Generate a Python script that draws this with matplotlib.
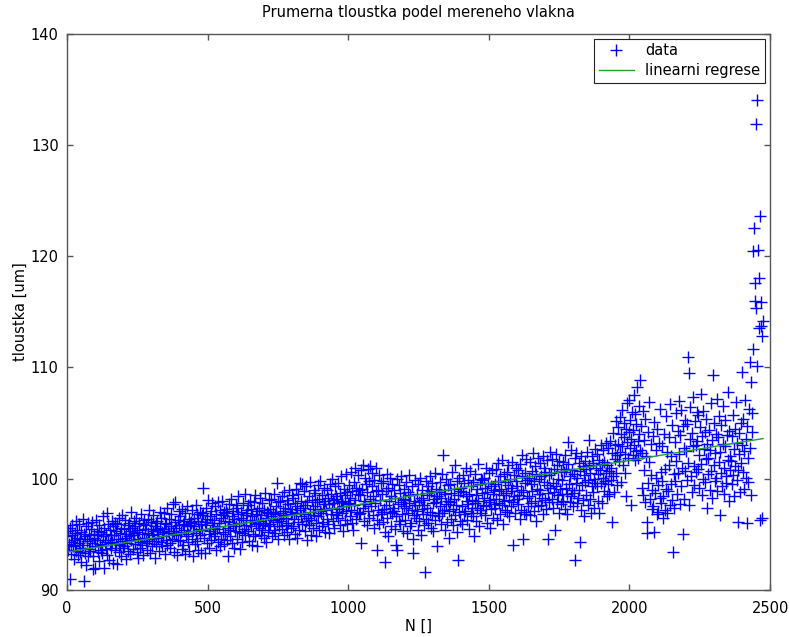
import numpy as np
import matplotlib
matplotlib.use('Agg')
import matplotlib.pyplot as plt

thickness = [
    94.8, 95.3, 93.6, 94.1, 91.0, 95.6, 94.3, 93.2, 94.9, 95.8, 93.9, 94.5, 92.8, 95.1, 94.0, 96.2, 93.5, 94.7, 95.4, 93.1,
    94.2, 95.9, 93.4, 94.6, 92.5, 95.2, 93.8, 96.4, 94.0, 90.8, 95.0, 93.3, 94.8, 92.2, 95.7, 94.4, 93.0, 96.0, 94.9, 93.7,
    94.6, 93.5, 95.5, 96.1, 94.2, 93.0, 91.9, 95.0, 94.7, 93.9, 92.0, 96.3, 94.5, 95.3, 93.4, 94.9, 92.6, 95.8, 94.1, 93.6,
    95.2, 94.0, 93.3, 96.6, 94.8, 92.0, 95.6, 94.3, 93.7, 95.0, 96.9, 93.1, 94.5, 95.9, 92.7, 94.2, 95.4, 93.8, 94.9, 96.2,
    94.3, 95.7, 92.4, 94.9, 96.0, 93.6, 95.3, 94.1, 92.3, 95.9, 94.6, 93.4, 96.5, 95.1, 94.0, 93.0, 95.6, 96.7, 94.4, 93.8,
    95.5, 93.9, 94.7, 96.3, 95.0, 92.8, 94.2, 95.8, 93.5, 96.0, 94.8, 95.3, 93.2, 94.5, 97.0, 95.6, 93.7, 94.9, 96.2, 95.1,
    94.1, 95.7, 96.5, 93.4, 95.2, 94.6, 92.9, 96.0, 95.4, 94.3, 93.8, 96.8, 95.0, 94.0, 95.9, 93.1, 94.7, 96.3, 95.5, 94.4,
    95.8, 94.2, 93.6, 96.4, 95.1, 97.2, 94.6, 93.3, 95.5, 96.1, 94.9, 93.9, 95.3, 96.7, 94.4, 92.9, 95.7, 96.0, 94.1, 95.4,
    96.2, 94.7, 95.0, 93.5, 97.0, 95.6, 94.3, 96.5, 95.2, 93.9, 94.8, 96.9, 95.5, 93.2, 96.0, 94.5, 95.9, 97.4, 94.0, 95.3,
    95.1, 96.4, 94.2, 93.8, 95.7, 96.8, 94.6, 95.3, 97.7, 95.0, 93.4, 96.1, 97.9, 94.9, 95.6, 93.1, 96.3, 94.4, 95.8, 97.1,
    94.5, 96.6, 95.2, 93.7, 97.3, 95.9, 94.0, 96.2, 95.4, 93.2, 96.9, 94.8, 95.7, 97.5, 94.3, 95.0, 96.4, 93.5, 95.8, 96.1,
    96.0, 94.6, 97.2, 95.3, 93.0, 96.5, 95.7, 94.1, 97.6, 95.1, 96.8, 94.4, 93.6, 96.2, 95.5, 97.0, 94.9, 95.9, 93.3, 96.7,
    95.4, 96.9, 99.2, 94.7, 96.1, 93.3, 95.8, 97.4, 94.2, 96.4, 98.1, 95.0, 93.8, 96.6, 95.3, 97.1, 94.5, 96.0, 97.8, 95.6,
    94.8, 96.3, 97.5, 95.1, 93.6, 96.8, 95.5, 97.9, 94.3, 96.0, 95.7, 93.9, 97.2, 96.5, 94.6, 98.0, 95.2, 96.7, 94.1, 97.0,
    96.2, 95.0, 97.3, 94.5, 96.9, 95.6, 93.0, 97.7, 96.1, 94.8, 95.4, 98.2, 96.6, 94.2, 95.9, 97.1, 93.8, 96.4, 95.3, 97.6,
    95.7, 97.4, 94.6, 96.8, 98.4, 95.2, 96.0, 93.7, 97.0, 96.5, 95.1, 94.3, 97.8, 96.3, 95.5, 98.6, 94.9, 96.7, 95.8, 97.2,
    96.9, 95.3, 97.6, 94.4, 96.1, 98.0, 95.7, 97.3, 94.0, 96.6, 95.0, 97.9, 96.3, 94.8, 98.5, 95.9, 96.8, 93.9, 97.1, 96.0,
    95.6, 97.4, 96.2, 98.3, 94.9, 96.7, 95.4, 97.8, 96.0, 94.7, 97.2, 95.8, 98.7, 96.5, 94.3, 97.0, 95.2, 96.9, 98.1, 95.7,
    97.3, 95.9, 96.6, 98.2, 94.8, 97.0, 96.3, 95.4, 98.6, 96.8, 95.1, 97.5, 99.6, 96.1, 94.6, 97.9, 96.4, 95.7, 98.0, 96.9,
    96.2, 98.4, 95.5, 97.1, 96.7, 94.9, 98.8, 97.4, 95.8, 96.5, 98.1, 95.2, 97.7, 96.0, 99.0, 94.6, 97.3, 96.8, 95.6, 98.5,
    97.0, 95.7, 98.3, 96.4, 97.8, 95.0, 99.1, 96.9, 94.7, 97.5, 98.6, 96.1, 95.4, 97.2, 99.6, 96.6, 98.0, 99.5, 95.9, 97.4,
    96.8, 98.9, 95.3, 97.6, 96.2, 99.3, 94.5, 97.9, 96.5, 98.4, 95.8, 97.0, 99.7, 96.3, 94.9, 98.1, 97.3, 95.6, 99.0, 96.7,
    97.5, 98.7, 96.0, 94.8, 97.9, 99.4, 96.6, 98.2, 95.4, 97.1, 99.8, 96.9, 95.7, 98.5, 97.3, 96.1, 99.2, 97.7, 95.2, 98.0,
    97.2, 99.0, 96.4, 98.3, 95.9, 97.7, 95.1, 99.5, 96.8, 98.6, 97.4, 100.0, 96.2, 98.1, 95.6, 97.8, 99.3, 96.7, 98.4, 97.0,
    98.2, 96.5, 99.6, 97.3, 95.8, 98.7, 97.9, 100.2, 96.9, 98.0, 95.3, 97.5, 99.1, 96.3, 98.5, 100.4, 97.1, 95.9, 98.8, 97.7,
    97.8, 99.4, 96.6, 98.3, 100.6, 97.2, 98.9, 96.0, 95.4, 99.7, 97.6, 101.0, 98.1, 96.4, 99.2, 97.0, 100.3, 98.6, 96.8, 99.0,
    98.5, 96.9, 100.8, 94.2, 99.1, 97.4, 101.2, 98.0, 96.2, 100.1, 97.7, 99.5, 95.8, 98.8, 100.9, 97.1, 96.5, 99.8, 98.2, 101.1,
    97.5, 99.3, 100.5, 96.7, 98.4, 95.6, 99.9, 97.8, 101.0, 98.9, 93.6, 96.3, 99.0, 97.2, 100.3, 95.9, 98.1, 96.8, 99.6, 97.0,
    98.6, 96.1, 99.8, 97.3, 95.2, 92.5, 98.9, 97.6, 100.4, 96.5, 99.2, 94.8, 98.0, 97.0, 100.1, 95.7, 98.4, 96.9, 99.5, 97.4,
    97.1, 99.0, 95.5, 98.3, 96.6, 94.0, 100.0, 93.6, 97.7, 99.4, 96.2, 98.7, 95.9, 97.9, 100.2, 96.8, 98.1, 95.3, 99.1, 97.5,
    98.2, 96.3, 99.7, 97.4, 95.1, 98.8, 96.9, 100.3, 97.8, 95.7, 98.5, 96.0, 99.3, 97.2, 94.6, 93.3, 98.0, 96.7, 99.9, 97.6,
    96.5, 98.6, 97.1, 99.5, 95.4, 97.9, 96.2, 100.1, 98.3, 94.9, 97.3, 99.0, 96.8, 98.1, 95.8, 97.6, 91.6, 99.8, 96.4, 98.7,
    97.4, 99.3, 96.0, 98.5, 100.2, 97.0, 95.6, 98.9, 96.7, 99.6, 97.8, 95.3, 98.2, 100.5, 96.3, 97.9, 99.1, 93.9, 98.4, 96.9,
    98.8, 96.6, 99.7, 97.5, 95.9, 98.3, 100.4, 96.9, 102.1, 97.2, 99.0, 95.4, 98.6, 97.7, 100.0, 96.1, 98.0, 99.4, 97.1, 94.7,
    97.9, 99.5, 96.4, 98.7, 100.6, 97.3, 95.8, 99.1, 98.2, 96.7, 101.2, 97.6, 99.8, 95.2, 92.7, 98.5, 97.0, 100.1, 96.2, 98.9,
    99.2, 97.5, 95.9, 98.8, 100.3, 96.8, 99.6, 97.1, 98.4, 101.0, 96.3, 98.0, 99.9, 97.7, 95.5, 98.6, 100.7, 96.9, 99.3, 97.4,
    98.1, 96.6, 99.7, 94.8, 97.8, 100.4, 98.5, 96.2, 99.1, 97.4, 101.3, 98.0, 95.7, 99.5, 97.2, 100.0, 96.9, 98.7, 99.9, 97.6,
    98.3, 100.1, 96.7, 99.2, 97.5, 101.0, 98.8, 96.0, 99.6, 97.9, 100.5, 98.1, 95.6, 99.3, 97.3, 100.8, 98.6, 96.5, 99.0, 97.7,
    99.5, 97.4, 100.9, 98.2, 96.3, 99.8, 101.4, 97.8, 98.9, 100.2, 96.8, 99.1, 97.6, 101.7, 98.5, 95.9, 100.4, 98.0, 99.7, 97.2,
    98.7, 100.6, 97.0, 99.4, 101.2, 98.1, 96.6, 100.0, 98.9, 97.5, 101.5, 99.2, 97.9, 94.0, 100.3, 98.4, 96.9, 99.8, 101.0, 98.2,
    99.3, 97.7, 100.8, 98.5, 96.4, 101.3, 99.0, 97.2, 102.1, 100.2, 94.6, 98.8, 97.0, 100.5, 99.6, 96.8, 101.8, 98.3, 99.9, 97.5,
    100.1, 98.4, 96.7, 101.5, 99.5, 97.8, 100.7, 98.9, 102.3, 97.1, 99.8, 101.1, 98.0, 96.2, 100.4, 99.1, 97.5, 101.9, 98.6, 100.0,
    99.0, 101.4, 97.6, 100.2, 98.3, 102.0, 96.8, 99.7, 101.0, 98.1, 100.6, 97.3, 99.4, 101.7, 98.7, 94.6, 100.3, 97.9, 99.2, 102.4,
    100.5, 98.2, 101.8, 99.6, 97.4, 100.9, 98.8, 95.4, 102.2, 99.3, 97.9, 101.2, 100.0, 98.5, 96.9, 101.6, 99.1, 97.7, 100.7, 98.6,
    99.9, 101.5, 98.0, 100.6, 97.3, 102.1, 99.2, 100.9, 98.6, 96.8, 101.3, 103.3, 99.5, 97.9, 100.2, 102.6, 98.4, 100.8, 99.0, 97.5,
    100.4, 98.7, 101.9, 92.7, 99.6, 102.3, 97.8, 100.1, 98.3, 101.4, 99.0, 94.3, 100.7, 97.2, 102.0, 99.4, 98.1, 101.1, 96.6, 100.3,
    99.7, 101.6, 98.5, 100.9, 102.4, 97.6, 99.9, 103.5, 101.2, 98.2, 100.5, 96.9, 102.0, 99.3, 101.4, 98.8, 100.0, 97.4, 102.7, 99.6,
    101.0, 99.3, 102.2, 100.4, 98.0, 101.7, 96.9, 100.8, 103.0, 99.6, 101.3, 97.8, 100.1, 102.6, 98.9, 101.5, 99.8, 103.2, 100.5, 98.4,
    101.2, 99.5, 102.8, 100.7, 98.6, 103.4, 101.0, 99.9, 96.1, 102.3, 100.2, 104.1, 98.8, 101.8, 103.0, 100.5, 105.2, 102.1, 99.4, 104.6,
    103.1, 101.6, 105.5, 102.4, 99.7, 104.0, 106.2, 102.9, 101.2, 103.7, 105.0, 100.5, 102.2, 104.5, 98.4, 103.3, 106.8, 101.9, 104.2, 107.1,
    102.8, 105.3, 103.6, 97.6, 106.0, 102.1, 104.4, 107.5, 103.0, 101.7, 105.8, 102.5, 104.9, 108.2, 103.4, 101.9, 106.5, 104.0, 108.9, 102.6,
    104.7, 102.3, 99.2, 106.1, 98.5, 103.5, 100.8, 105.4, 97.9, 102.0, 96.1, 95.1, 104.2, 99.6, 101.5, 106.9, 98.2, 103.1, 100.3, 97.3,
    99.0, 103.8, 97.5, 105.1, 95.2, 98.7, 102.6, 100.1, 96.8, 104.5, 99.4, 97.0, 103.2, 98.3, 106.3, 100.6, 97.8, 102.9, 99.8, 96.5,
    98.4, 104.0, 100.9, 97.2, 105.6, 99.1, 102.4, 96.9, 98.9, 103.7, 101.2, 97.6, 106.7, 99.5, 102.0, 98.1, 104.8, 93.4, 100.4, 97.4,
    103.3, 99.8, 105.9, 101.6, 98.6, 104.3, 100.5, 107.0, 102.2, 97.7, 103.9, 106.2, 99.3, 101.0, 104.7, 95.0, 102.8, 98.2, 105.3, 100.7,
    102.5, 104.9, 99.9, 110.9, 101.4, 109.5, 97.6, 103.6, 106.4, 100.2, 104.1, 98.8, 102.9, 107.3, 101.1, 99.4, 105.2, 103.0, 100.6, 106.0,
    103.4, 100.9, 105.7, 102.1, 99.2, 104.6, 107.6, 101.3, 98.5, 103.8, 106.1, 100.0, 102.7, 104.2, 99.7, 105.4, 101.8, 97.4, 103.1, 100.4,
    101.9, 104.4, 99.0, 102.6, 106.8, 100.7, 103.5, 98.3, 109.3, 101.2, 105.0, 99.8, 102.3, 104.0, 100.1, 107.2, 98.9, 103.7, 101.5, 105.6,
    96.7, 102.4, 100.5, 104.8, 99.3, 103.1, 106.5, 101.0, 98.6, 102.9, 105.3, 100.2, 99.6, 103.9, 107.8, 101.7, 98.0, 104.3, 100.8, 102.0,
    101.6, 103.8, 99.5, 105.7, 100.3, 102.7, 98.4, 104.5, 101.1, 106.9, 99.9, 103.2, 96.1, 100.8, 104.1, 102.2, 98.8, 105.0, 101.4, 109.6,
    103.0, 100.6, 105.4, 99.1, 102.5, 107.1, 100.1, 103.6, 96.0, 104.7, 101.9, 99.7, 106.3, 110.5, 102.8, 98.5, 108.7, 104.2, 105.9, 111.7,
    120.5, 122.5, 117.6, 116.0, 115.3, 131.9, 134.0, 110.1, 120.6, 113.5, 118.0, 123.6, 96.3, 115.9, 113.7, 96.5, 112.8, 114.2,
]
sample_n = 1 + 2 * np.arange(len(thickness))

# Linear regression line (end points)
reg_n = [1, 2475]
reg_thickness = [93.4, 103.6]

plt.rcParams['font.family'] = 'DejaVu Sans'
plt.rcParams['font.size'] = 10.5

fig = plt.figure(figsize=(7.89, 6.37), dpi=100)
ax = fig.add_axes([0.085, 0.074, 0.891, 0.873])

ax.plot(sample_n, thickness, linestyle='none', marker='+', markersize=8,
        markeredgewidth=1.0, color='#0000ff', label='data')
ax.plot(reg_n, reg_thickness, color='#22a022', linewidth=1.0, label='linearni regrese')

ax.set_xlim(0, 2500)
ax.set_ylim(90, 140)
ax.set_xticks(range(0, 2501, 500))
ax.set_yticks(range(90, 141, 10))

# Octave-like box with inward ticks on all sides
for spine in ax.spines.values():
    spine.set_color('#555555')
    spine.set_linewidth(1.0)
ax.tick_params(direction='in', top=True, right=True, length=4, width=1.0, color='#555555')
ax.tick_params(axis='x', pad=8)
ax.tick_params(axis='y', pad=6)

ax.set_title('Prumerna tloustka podel mereneho vlakna', fontsize=10.5, pad=12)
ax.set_xlabel('N []', labelpad=2)
ax.set_ylabel('tloustka [um]', labelpad=2)

leg = ax.legend(loc='upper right', fancybox=False, framealpha=1, edgecolor='#222222',
                borderaxespad=0.35, handlelength=2.4, borderpad=0.3, labelspacing=0.35)
leg.get_frame().set_linewidth(0.8)

plt.savefig('out.png', dpi=100)
